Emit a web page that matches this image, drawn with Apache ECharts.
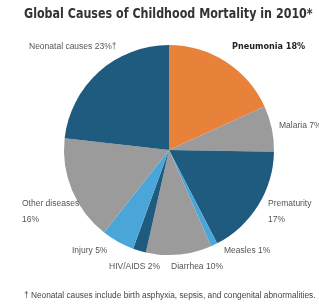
<!DOCTYPE html>
<html>
<head>
    <meta charset="UTF-8">
    <title>Global Causes of Childhood Mortality in 2010</title>
    <style>
        html, body {margin: 0; padding: 0; background: #fff;}
        #main {width: 319px; height: 304px;}
    </style>
</head>
<body>
<div id="main"></div>
<script src="https://cdn.jsdelivr.net/npm/echarts@6/dist/echarts.min.js"></script>
<script>
    // 数据
    var causes = ['Pneumonia', 'Malaria', 'Prematurity', 'Measles', 'Diarrhea',
        'HIV/AIDS', 'Injury', 'Other diseases', 'Neonatal causes'];
    var shares = [18, 7, 17, 1, 10, 2, 5, 16, 23];
    var sliceColors = ['#e8823a', '#9b9b9b', '#1f5b7f', '#4aa6d8', '#9b9b9b',
        '#1f5b7f', '#4aa6d8', '#9b9b9b', '#1f5b7f'];

    // label positions (left x, middle y) in px
    var labelPos = [[232, 47], [279, 126], [268, 212], [224, 251], [171, 267],
        [109, 267], [72, 251], [22, 212], [29, 47]];

    var myChart = echarts.init(document.getElementById('main'));
    var option = {
        animation: false,
        graphic: [{
            // title, squeezed to look like the condensed face
            type: 'text',
            x: 24,
            y: 7,
            scaleX: 0.795,
            style: {
                text: 'Global Causes of Childhood Mortality in 2010*',
                font: 'bold 14px "DejaVu Sans", sans-serif',
                fill: '#333'
            }
        }, {
            type: 'text',
            x: 24,
            y: 292,
            style: {
                text: '\u2020 Neonatal causes include birth asphyxia, sepsis, and congenital abnormalities.',
                font: '8.3px "Liberation Sans", Arial, sans-serif',
                fill: '#444'
            }
        }],
        series: [{
            type: 'pie',
            center: [169, 150],
            radius: 105,
            startAngle: 90,
            clockwise: true,
            data: causes.map(function (c, i) {
                return {name: c, value: shares[i], itemStyle: {color: sliceColors[i]}};
            }),
            itemStyle: {borderWidth: 0},
            labelLine: {show: false},
            label: {
                show: true,
                position: 'outside',
                overflow: 'none',
                fontFamily: '"Liberation Sans", Arial, sans-serif',
                fontSize: 8.5,
                color: '#555',
                lineHeight: 16,
                formatter: function (p) {
                    if (p.name == 'Pneumonia') return '{b|' + p.name + ' ' + p.value + '%}';
                    if (p.name == 'Neonatal causes') return p.name + ' ' + p.value + '%\u2020';
                    if (p.name == 'Prematurity' || p.name == 'Other diseases') return p.name + '\n' + p.value + '%';
                    return p.name + ' ' + p.value + '%';
                },
                rich: {
                    b: {fontWeight: 'bold', color: '#222', fontSize: 9,
                        fontFamily: '"DejaVu Sans Condensed", "DejaVu Sans", sans-serif'}
                }
            },
            labelLayout: function (params) {
                var p = labelPos[params.dataIndex];
                return {x: p[0], y: p[1], align: 'left', verticalAlign: 'middle'};
            }
        }]
    };
    myChart.setOption(option);
</script>
</body>
</html>
